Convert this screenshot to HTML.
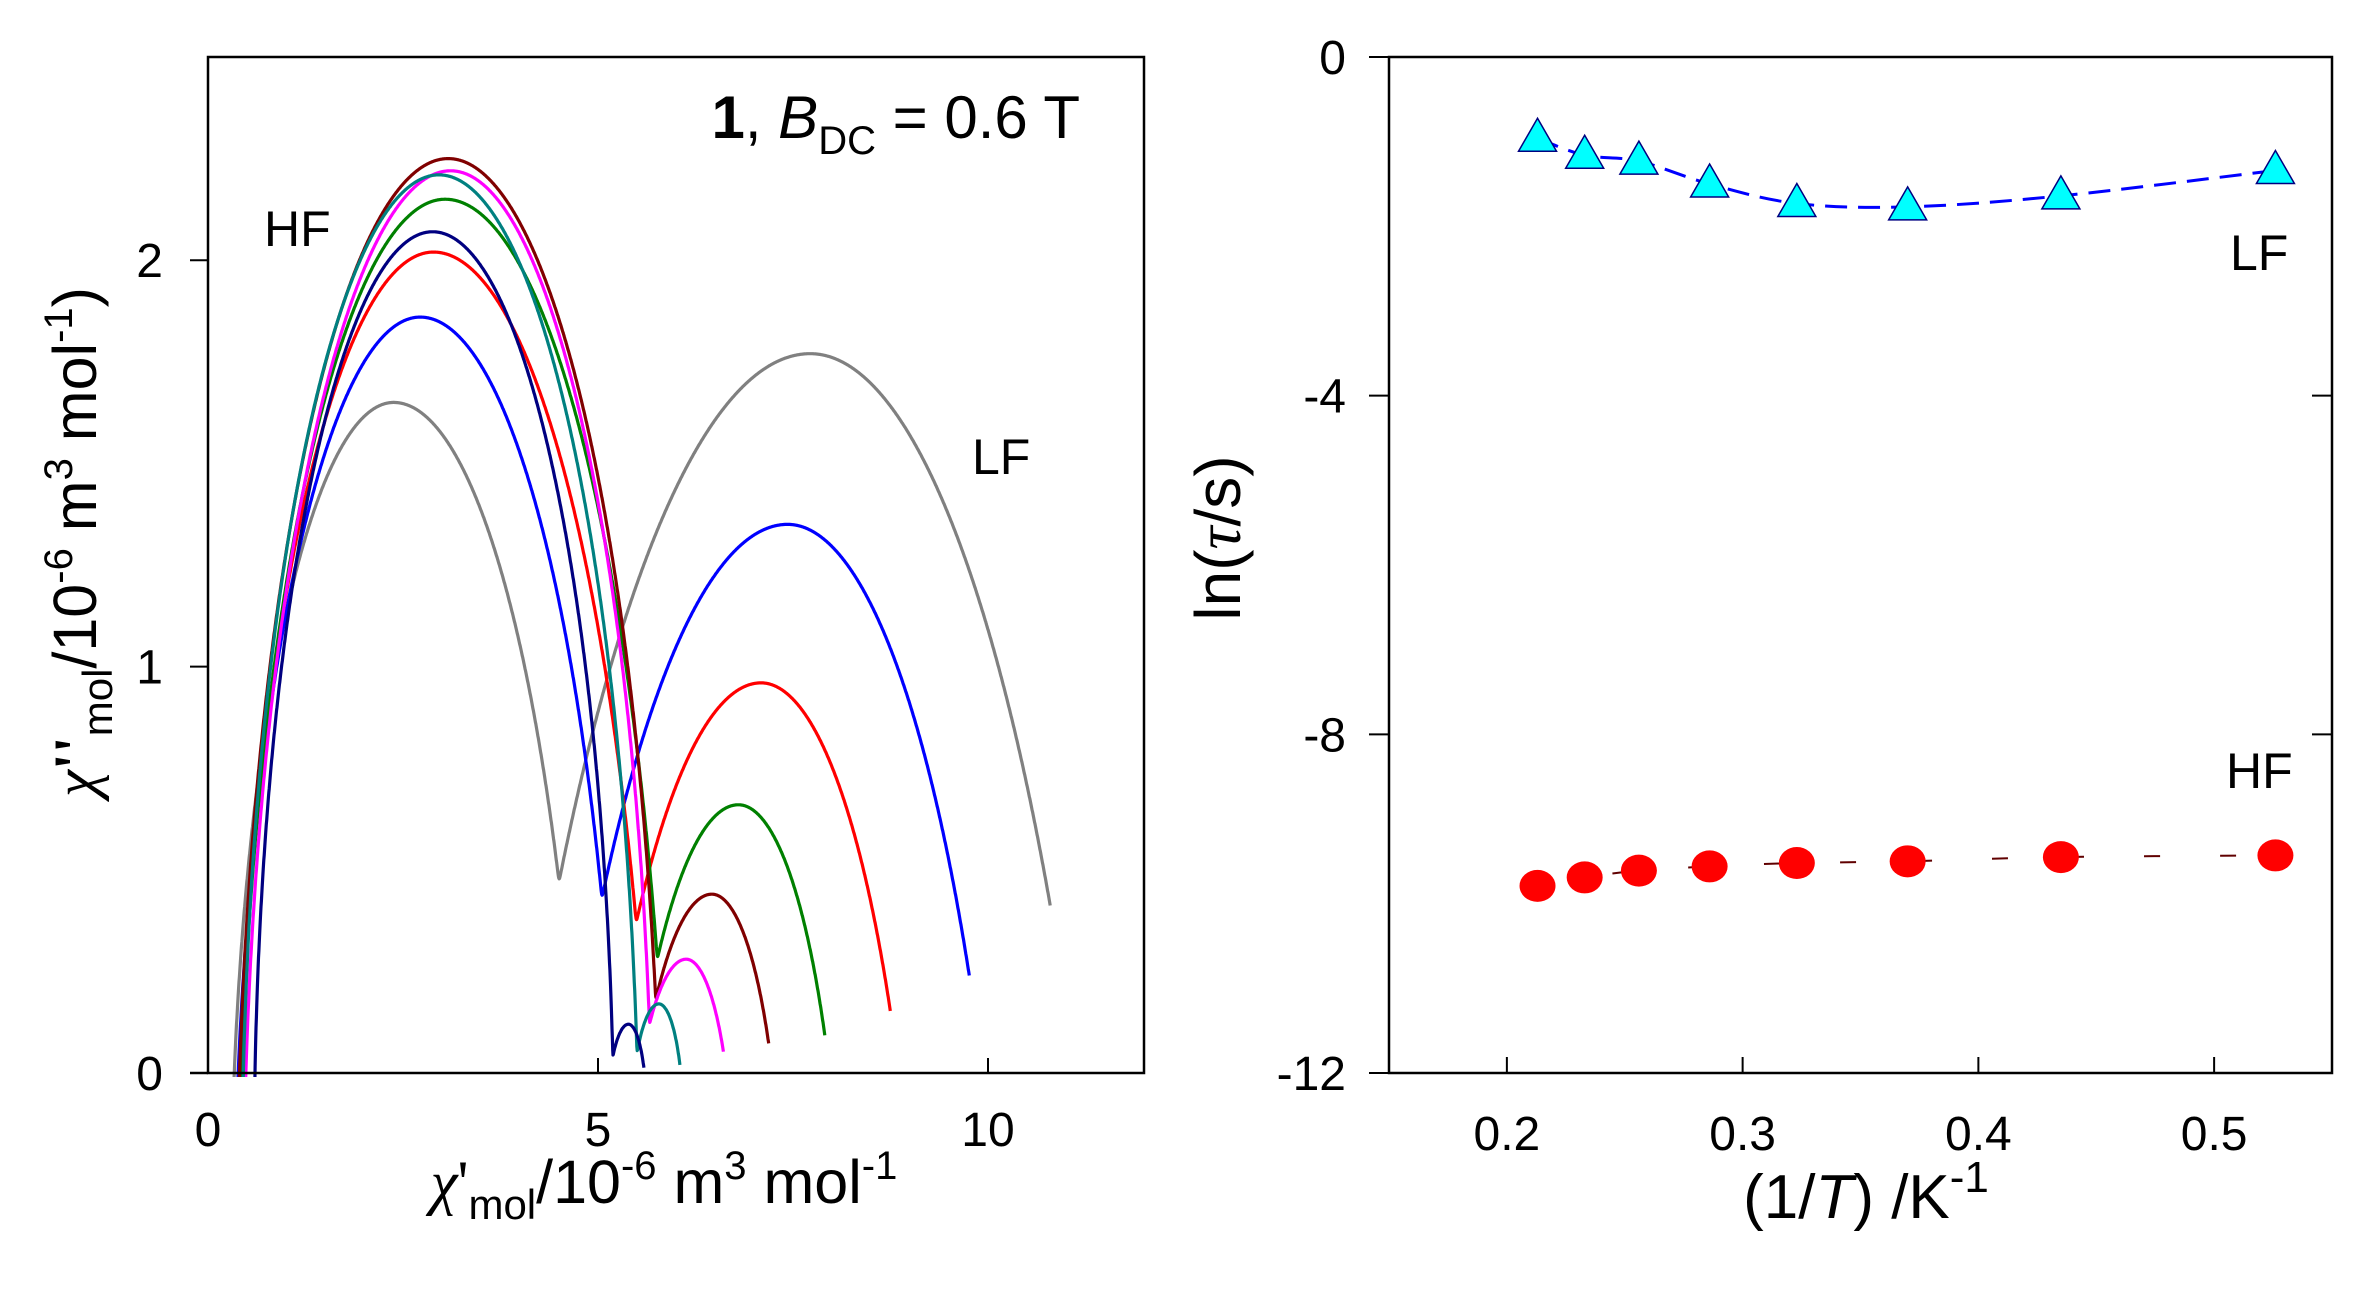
<!DOCTYPE html>
<html><head><meta charset="utf-8"><style>
html,body{margin:0;padding:0;background:#fff;}
svg{display:block;font-family:"Liberation Sans",Arial,sans-serif;}
</style></head><body>
<svg id="fig" width="2355" height="1290" viewBox="0 0 2355 1290" xmlns="http://www.w3.org/2000/svg">
<g id="left"></g>
<g id="right"></g>
</svg>
<script>
// ---- Left chart data (key points of each Cole-Cole curve) ----
const seriesColors = ["#808080","#0000ff","#ff0000","#008000","#800000","#ff00ff","#008080","#000080"];
const startX   = [0.33,0.38,0.40,0.42,0.40,0.48,0.45,0.60];
const hfPeakX  = [2.38,2.72,2.89,3.04,3.08,3.11,2.96,2.88];
const hfPeakY  = [1.65,1.86,2.02,2.15,2.25,2.22,2.21,2.07];
const minX     = [4.50,5.05,5.49,5.76,5.74,5.66,5.50,5.19];
const minY     = [0.47,0.43,0.37,0.28,0.18,0.12,0.05,0.04];
const lfPeakX  = [7.72,7.43,7.09,6.80,6.46,6.13,5.78,5.39];
const lfPeakY  = [1.77,1.35,0.96,0.66,0.44,0.28,0.17,0.12];
const endX     = [10.8,9.76,8.75,7.91,7.19,6.61,6.05,5.59];
const endY     = [0.41,0.24,0.15,0.09,0.07,0.05,0.02,0.01];
const leftXTicks = [0,5,10];
const leftYTicks = [0,1,2];
// ---- Right chart data ----
const invT   = [0.213,0.233,0.256,0.286,0.323,0.370,0.435,0.526];
const lnTauLF = [-0.96,-1.16,-1.23,-1.50,-1.73,-1.77,-1.64,-1.34];
const lnTauHF = [-9.79,-9.69,-9.61,-9.56,-9.52,-9.50,-9.45,-9.43];
const rightXTicks = ["0.2","0.3","0.4","0.5"];
const rightYTicks = ["0","-4","-8","-12"];

const NS="http://www.w3.org/2000/svg";
function mk(parent,tag,attrs,text){const e=document.createElementNS(NS,tag);for(const k in attrs)e.setAttribute(k,attrs[k]);if(text!==undefined)e.textContent=text;parent.appendChild(e);return e;}

// ===== LEFT =====
const L={x0:208,x1:1144,y0:1073,y1:57,xmin:0,xmax:12,ymin:0,ymax:2.5};
const lx=v=>L.x0+(v-L.xmin)/(L.xmax-L.xmin)*(L.x1-L.x0);
const ly=v=>L.y0-(v-L.ymin)/(L.ymax-L.ymin)*(L.y0-L.y1);
const lg=document.getElementById('left');
function arc(px,py,qx,qy){const dx=qx-px,dy=qy-py;const r=-(dx*dx+dy*dy)/(2*dy);return x=>{const d=x-px;const s=r*r-d*d;return s<0?-1e9:py-r+Math.sqrt(s);};}
function softmax(a,b){const k=0.012;if(a<-1e8)return b;if(b<-1e8)return a;const m=Math.max(a,b);return m+k*Math.log(Math.exp((a-m)/k)+Math.exp((b-m)/k));}
const clipL=mk(lg,'clipPath',{id:'clipL'});
mk(clipL,'rect',{x:L.x0,y:L.y1,width:L.x1-L.x0,height:L.y0-L.y1+4});
const curves=mk(lg,'g',{'clip-path':'url(#clipL)'});
for(let i=0;i<seriesColors.length;i++){
  const hfL=arc(hfPeakX[i],hfPeakY[i],startX[i],-0.03);
  const hfR=arc(hfPeakX[i],hfPeakY[i],minX[i],minY[i]);
  const lfL=arc(lfPeakX[i],lfPeakY[i],minX[i],minY[i]);
  const lfR=arc(lfPeakX[i],lfPeakY[i],endX[i],endY[i]);
  let pts=[];
  const step=0.004;
  for(let x=startX[i];x<=endX[i]+1e-9;x+=step){
    let y;
    if(x<=hfPeakX[i]) y=hfL(x);
    else if(x<=lfPeakX[i]) y=softmax(hfR(x),lfL(x));
    else y=lfR(x);
    if(y<-0.05) y=-0.05;
    pts.push(lx(x).toFixed(1)+','+ly(y).toFixed(1));
  }
  const p=mk(curves,'polyline',{points:pts.join(' '),fill:'none',stroke:seriesColors[i],'stroke-width':3.2,'stroke-linejoin':'round'});
  
  
}
const lf=mk(lg,'rect',{x:L.x0,y:L.y1,width:L.x1-L.x0,height:L.y0-L.y1,fill:'none',stroke:'#000','stroke-width':2.5});


mk(lg,'line',{x1:L.x0-18,y1:L.y0,x2:L.x0,y2:L.y0,stroke:'#000','stroke-width':2.5});
leftXTicks.forEach(v=>{
  mk(lg,'line',{x1:lx(v),y1:L.y0,x2:lx(v),y2:L.y0-15,stroke:'#000','stroke-width':2});
  const t=mk(lg,'text',{x:lx(v),y:1146,'font-size':48,'text-anchor':'middle'},String(v));
  
  
});
leftYTicks.forEach(v=>{
  mk(lg,'line',{x1:L.x0-18,y1:ly(v),x2:L.x0,y2:ly(v),stroke:'#000','stroke-width':2});
  const t=mk(lg,'text',{x:163,y:ly(v)+17,'font-size':48,'text-anchor':'end'},String(v));
  
  
});
</script>
<script>
(function(){
const lg=document.getElementById('left');
lg.insertAdjacentHTML('beforeend',`
<text x="264" y="246" font-size="50">HF</text>
<text x="972" y="474" font-size="50">LF</text>
<text x="1080" y="138" font-size="60" text-anchor="end"><tspan font-weight="bold">1</tspan>, <tspan font-style="italic">B</tspan><tspan font-size="40" dy="16">DC</tspan><tspan dy="-16"> = 0.6 T</tspan></text>
<text x="664" y="1203" font-size="61" text-anchor="middle"><tspan font-family="Liberation Serif" font-style="italic">χ</tspan><tspan font-family="Liberation Serif">'</tspan><tspan font-size="42" dy="16">mol</tspan><tspan dy="-16">/10</tspan><tspan font-size="40" dy="-24">-6</tspan><tspan dy="24"> m</tspan><tspan font-size="40" dy="-24">3</tspan><tspan dy="24"> mol</tspan><tspan font-size="40" dy="-24">-1</tspan></text>
<text transform="translate(96,542) rotate(-90)" font-size="61" text-anchor="middle"><tspan font-family="Liberation Serif" font-style="italic">χ</tspan><tspan font-family="Liberation Serif" font-weight="bold">''</tspan><tspan font-size="42" dy="16">mol</tspan><tspan dy="-16">/10</tspan><tspan font-size="40" dy="-24">-6</tspan><tspan dy="24"> m</tspan><tspan font-size="40" dy="-24">3</tspan><tspan dy="24"> mol</tspan><tspan font-size="40" dy="-24">-1</tspan><tspan dy="24">)</tspan></text>
`);
})();
</script>
<script>
(function(){
const R={x0:1389,x1:2332,y0:1073,y1:57,xmin:0.15,xmax:0.55,ymin:-12,ymax:0};
const rx=v=>R.x0+(v-R.xmin)/(R.xmax-R.xmin)*(R.x1-R.x0);
const ry=v=>R.y0-(v-R.ymin)/(R.ymax-R.ymin)*(R.y0-R.y1);
const rg=document.getElementById('right');
const f=mk(rg,'rect',{x:R.x0,y:R.y1,width:R.x1-R.x0,height:R.y0-R.y1,fill:'none',stroke:'#000','stroke-width':2.5});


rightXTicks.forEach(s=>{const v=parseFloat(s);
  mk(rg,'line',{x1:rx(v),y1:R.y0,x2:rx(v),y2:R.y0-16,stroke:'#000','stroke-width':2});
  const t=mk(rg,'text',{x:rx(v),y:1150,'font-size':48,'text-anchor':'middle'},s);
  
  
});
rightYTicks.forEach(s=>{const v=parseFloat(s);
  mk(rg,'line',{x1:R.x0-20,y1:ry(v),x2:R.x0,y2:ry(v),stroke:'#000','stroke-width':2});
  mk(rg,'line',{x1:R.x1-20,y1:ry(v),x2:R.x1,y2:ry(v),stroke:'#000','stroke-width':2});
  const t=mk(rg,'text',{x:1346,y:ry(v)+17,'font-size':48,'text-anchor':'end'},s);
  
  
});
function smooth(xs,ys){const P=xs.map((x,i)=>[rx(x),ry(ys[i])]);let d='M'+P[0][0]+','+P[0][1];
 for(let i=0;i<P.length-1;i++){const p0=P[i-1]||P[i],p1=P[i],p2=P[i+1],p3=P[i+2]||P[i+1];
  d+=' C'+(p1[0]+(p2[0]-p0[0])/6)+','+(p1[1]+(p2[1]-p0[1])/6)+' '+(p2[0]-(p3[0]-p1[0])/6)+','+(p2[1]-(p3[1]-p1[1])/6)+' '+p2[0]+','+p2[1];}
 return d;}
const lfLine=mk(rg,'path',{d:smooth(invT,lnTauLF),fill:'none',stroke:'#0000ff','stroke-width':3,'stroke-dasharray':'22 11'});


const hfLine=mk(rg,'path',{d:smooth(invT,lnTauHF),fill:'none',stroke:'#600000','stroke-width':2,'stroke-dasharray':'16 60'});


invT.forEach((x,i)=>{
  const cx=rx(x),cy=ry(lnTauLF[i]);
  const tri=mk(rg,'polygon',{points:`${cx},${cy-20} ${cx-19},${cy+13} ${cx+19},${cy+13}`,fill:'#00ffff',stroke:'#000080','stroke-width':1.5});
  
  
  const c=mk(rg,'ellipse',{cx:rx(x),cy:ry(lnTauHF[i]),rx:18,ry:16,fill:'#ff0000'});
  
  
});
rg.insertAdjacentHTML('beforeend',`
<text x="2230" y="270" font-size="50">LF</text>
<text x="2226" y="788" font-size="50">HF</text>
<text x="1866" y="1218" font-size="62" text-anchor="middle">(1/<tspan font-style="italic">T</tspan>) /K<tspan font-size="44" dy="-26">-1</tspan></text>
<text transform="translate(1240,538) rotate(-90)" font-size="64" text-anchor="middle">ln(<tspan font-family="Liberation Serif" font-style="italic">τ</tspan>/s)</text>
`);
})();
</script>
</body></html>
